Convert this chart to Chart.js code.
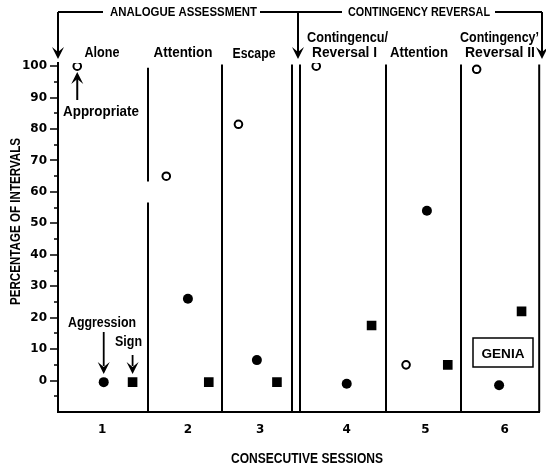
<!DOCTYPE html>
<html>
<head>
<meta charset="utf-8">
<script src="https://cdn.jsdelivr.net/npm/chart.js@4.4.1/dist/chart.umd.min.js"></script>
<style>
html,body{margin:0;padding:0;background:#fff;}
#wrap{width:546px;height:467px;position:relative;}
</style>
</head>
<body>
<div id="wrap"><canvas id="c" width="546" height="467"></canvas></div>
<script>
// ---- data ----
const sessionLabels = ['1', '2', '3', '4', '5', '6'];
const sessionTickX = [1.00, 2.07, 2.97, 4.05, 5.03, 6.02];
const phaseNames = [['Alone'], ['Attention'], ['Escape'], ['Contingencu/', 'Reversal I'], ['Attention'], ['Contingency\u2019', 'Reversal II']];
const phaseBoundaryX = [1.57, 2.50, 3.37, 3.47, 4.54, 5.48];
const appropriateX = [0.69, 1.80, 2.70, 3.67, 4.79, 5.67];
const appropriateY = [100, 65, 81.5, 100, 5, 99];
const aggressionX = [1.02, 2.07, 2.93, 4.05, 5.05, 5.95];
const aggressionY = [-0.5, 26, 6.5, -1, 54, -1.5];
const signX = [1.38, 2.33, 3.18, 4.36, 5.31, 6.23];
const signY = [-0.5, -0.5, -0.5, 17.5, 5, 22];
const yTickValues = [0, 10, 20, 30, 40, 50, 60, 70, 80, 90, 100];
const yMinorTickValues = [-5, 5, 15, 25, 35, 45, 55, 65, 75, 85, 95];

const pts = (xs, ys) => xs.map((x, i) => ({x: x, y: ys[i]}));
const FONT = '"Liberation Sans", Arial, sans-serif';

function txt(ctx, s, x, y, size, width, align, rot) {
  ctx.save();
  ctx.font = 'bold ' + size + 'px ' + FONT;
  ctx.textBaseline = 'alphabetic';
  ctx.textAlign = 'left';
  ctx.fillStyle = '#000';
  const w = ctx.measureText(s).width;
  const sx = width ? width / w : 1;
  ctx.translate(x, y);
  if (rot) ctx.rotate(rot);
  ctx.scale(sx, 1);
  const ox = align === 'left' ? 0 : (align === 'right' ? -w : -w / 2);
  ctx.fillText(s, ox, 0);
  ctx.restore();
}
function line(ctx, x1, y1, x2, y2, lw) {
  ctx.beginPath();
  ctx.lineWidth = lw;
  ctx.moveTo(x1, y1);
  ctx.lineTo(x2, y2);
  ctx.stroke();
}
function arrowHead(ctx, x, tipY, dir) {
  // dir = 1 pointing down, -1 pointing up
  ctx.beginPath();
  ctx.moveTo(x, tipY);
  ctx.lineTo(x - 6, tipY - dir * 12);
  ctx.lineTo(x, tipY - dir * 7);
  ctx.lineTo(x + 6, tipY - dir * 12);
  ctx.closePath();
  ctx.fill();
}

const decor = {
  id: 'decor',
  beforeDatasetsDraw(chart) {
    const ctx = chart.ctx, xs = chart.scales.x, ys = chart.scales.y, a = chart.chartArea;
    ctx.save();
    ctx.strokeStyle = '#000';
    ctx.fillStyle = '#000';
    const top = ys.getPixelForValue(100.5);
    phaseBoundaryX.forEach((bx, i) => {
      const px = Math.round(xs.getPixelForValue(bx));
      if (i === 0) {
        line(ctx, px, ys.getPixelForValue(99.5), px, ys.getPixelForValue(63.3), 2);
        line(ctx, px, ys.getPixelForValue(56.6), px, a.bottom, 2);
      } else {
        line(ctx, px, top, px, a.bottom, 2);
      }
    });
    line(ctx, a.right, top, a.right, a.bottom, 2);

    // y tick marks
    yTickValues.forEach(v => { const py = Math.round(ys.getPixelForValue(v)); line(ctx, a.left - 8, py, a.left, py, 1.5); });
    yMinorTickValues.forEach(v => { const py = Math.round(ys.getPixelForValue(v)); line(ctx, a.left - 4, py, a.left, py, 1.5); });
    ctx.restore();
  },
  afterDatasetsDraw(chart) {
    const ctx = chart.ctx, xs = chart.scales.x, ys = chart.scales.y, a = chart.chartArea;
    ctx.save();
    ctx.strokeStyle = '#000';
    ctx.fillStyle = '#000';

    // top brackets
    line(ctx, 58, 12, 103, 12, 1.8);
    line(ctx, 260, 12, 342, 12, 1.8);
    line(ctx, 495, 12, 542, 12, 1.8);
    [58, 298, 542].forEach(x => { line(ctx, x, 12, x, 52, 2); arrowHead(ctx, x, 59, 1); });
    txt(ctx, 'ANALOGUE ASSESSMENT', 183.5, 16, 12, 147);
    txt(ctx, 'CONTINGENCY REVERSAL', 419, 16, 12, 142);

    // phase names
    txt(ctx, 'Alone', 102, 57, 14, 35);
    txt(ctx, 'Attention', 183, 57, 14, 59);
    txt(ctx, 'Escape', 254, 58, 14, 43);
    txt(ctx, 'Contingencu/', 347.5, 42, 14, 81);
    txt(ctx, 'Reversal I', 344.5, 57, 14, 65);
    txt(ctx, 'Attention', 419, 57, 14, 58);
    txt(ctx, 'Contingency\u2019', 499.5, 42, 14, 79);
    txt(ctx, 'Reversal II', 500, 57, 14, 70);

    // series labels with arrows
    const ax = xs.getPixelForValue(appropriateX[0]);
    line(ctx, ax, 100, ax, 78, 2);
    arrowHead(ctx, ax, 72, -1);
    txt(ctx, 'Appropriate', 101, 116, 14, 76);

    const gx = xs.getPixelForValue(aggressionX[0]);
    line(ctx, gx, 332, gx, 366, 1.8);
    arrowHead(ctx, gx, 374, 1);
    txt(ctx, 'Aggression', 102, 327, 14, 68);

    const sxp = xs.getPixelForValue(signX[0]);
    line(ctx, sxp, 355, sxp, 366, 1.8);
    arrowHead(ctx, sxp, 374, 1);
    txt(ctx, 'Sign', 128.5, 346, 14, 27);

    // subject box
    ctx.lineWidth = 1.5;
    ctx.strokeRect(473, 338, 60, 29);
    txt(ctx, 'GENIA', 503, 358, 12, 43);

    // axis titles
    txt(ctx, 'CONSECUTIVE SESSIONS', 307, 463, 14, 152);
    txt(ctx, 'PERCENTAGE OF INTERVALS', 20, 221.5, 14, 167, 'center', -Math.PI / 2);
    ctx.restore();
  }
};

new Chart(document.getElementById('c'), {
  type: 'scatter',
  data: {
    datasets: [
      {label: 'Appropriate', data: pts(appropriateX, appropriateY), pointStyle: 'circle', pointRadius: 3.8, borderWidth: 2, borderColor: '#000', backgroundColor: '#fff'},
      {label: 'Aggression', data: pts(aggressionX, aggressionY), pointStyle: 'circle', pointRadius: 5, borderWidth: 0, borderColor: '#000', backgroundColor: '#000'},
      {label: 'Sign', data: pts(signX, signY), pointStyle: 'rect', pointRadius: 6.8, borderWidth: 0, borderColor: '#000', backgroundColor: '#000'}
    ]
  },
  options: {
    responsive: false,
    animation: false,
    devicePixelRatio: 1,
    layout: {padding: {left: 0, right: 5, top: 63, bottom: 0}},
    plugins: {legend: {display: false}, tooltip: {enabled: false}},
    scales: {
      x: {
        type: 'linear', min: 0.45, max: 6.45,
        afterBuildTicks: s => { s.ticks = sessionTickX.map(v => ({value: v})); },
        afterFit: s => { s.height = 55; },
        ticks: {autoSkip: false, maxRotation: 0, padding: 11, color: '#000',
          font: {family: '"DejaVu Sans", sans-serif', weight: 'bold', size: 12},
          callback: (v, i) => sessionLabels[i]},
        grid: {display: false, drawTicks: false},
        border: {display: true, color: '#000', width: 2}
      },
      y: {
        type: 'linear', min: -10, max: 101,
        afterBuildTicks: s => { s.ticks = yTickValues.map(v => ({value: v})); },
        afterFit: s => { s.width = 58; },
        ticks: {autoSkip: false, padding: 11, color: '#000',
          font: {family: '"DejaVu Sans", sans-serif', weight: 'bold', size: 12},
          callback: v => String(v)},
        grid: {display: false, drawTicks: false},
        border: {display: true, color: '#000', width: 2}
      }
    }
  },
  plugins: [decor]
});
</script>
</body>
</html>
